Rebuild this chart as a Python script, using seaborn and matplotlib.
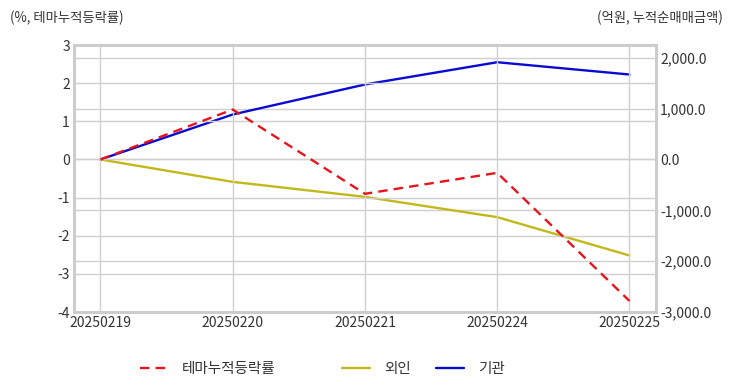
import pandas as pd
import seaborn as sns
import matplotlib.pyplot as plt
from matplotlib.lines import Line2D

# data
dates = ["20250219", "20250220", "20250221", "20250224", "20250225"]
theme_rate = [0.0, 1.31, -0.90, -0.35, -3.71]
foreign = [0.0, -440.0, -735.0, -1134.0, -1888.0]
inst = [0.0, 885.0, 1475.0, 1913.0, 1671.0]
left_ticks = [3, 2, 1, 0, -1, -2, -3, -4]
right_ticks = [2000, 1000, 0, -1000, -2000, -3000]
series_names = ["테마누적등락률", "외인", "기관"]

sns.set_theme(style="white")
plt.rcParams['font.family'] = ['Noto Sans CJK KR', 'DejaVu Sans']

df = pd.DataFrame({"date": dates, "theme": theme_rate, "foreign": foreign, "inst": inst})
df["pos"] = range(len(dates))

fig = plt.figure(figsize=(7.32, 3.92), dpi=100)
ax = fig.add_axes([0.1011, 0.204, 0.795, 0.681])
ax2 = ax.twinx()

grid_c = "#d0d0d0"
text_c = "#333333"
red, olive, blue = "#e8141c", "#c2b81a", "#0a0ad2"

sns.lineplot(data=df, x="pos", y="theme", ax=ax, color=red, linewidth=1.7, zorder=5)
ax.lines[0].set_dashes([4, 2.6])
sns.lineplot(data=df, x="pos", y="foreign", ax=ax2, color=olive, linewidth=1.7)
sns.lineplot(data=df, x="pos", y="inst", ax=ax2, color=blue, linewidth=1.7)

ax.set_xlim(-0.2, 4.2)
ax.set_ylim(-4, 3)
ax2.set_ylim(-3000, 2250)
ax.set_yticks(left_ticks)
ax.set_yticklabels([str(t) for t in left_ticks])
ax2.set_yticks(right_ticks)
ax2.set_yticklabels([f"{t:,.1f}" for t in right_ticks])
ax.set_xticks(df["pos"])
ax.set_xticklabels(dates)

# grids: verticals at dates, horizontals at both axes' ticks
for p in df["pos"]:
    ax.axvline(p, color=grid_c, lw=1, zorder=0)
for t in left_ticks:
    ax.axhline(t, color=grid_c, lw=1, zorder=0)
for t in right_ticks:
    ax2.axhline(t, color=grid_c, lw=1, zorder=0)
ax2.set_zorder(ax.get_zorder() - 1)
ax.patch.set_visible(False)

for a in (ax, ax2):
    a.set_xlabel("")
    a.set_ylabel("")
    a.tick_params(length=0, labelsize=10, colors=text_c, pad=3)
    for s in a.spines.values():
        s.set_color("#cccccc")
        s.set_linewidth(2)

fig.text(0.013, 0.955, "(%, 테마누적등락률)", fontsize=9.6, color=text_c, ha="left", va="center")
fig.text(0.987, 0.955, "(억원, 누적순매매금액)", fontsize=9.6, color=text_c, ha="right", va="center")

handles = [
    Line2D([], [], color=red, lw=1.7, dashes=[4, 2.6]),
    Line2D([], [], color=olive, lw=1.7),
    Line2D([], [], color=blue, lw=1.7),
]
anchors = [0.191, 0.467, 0.596]
for h, name, xa in zip(handles, series_names, anchors):
    fig.legend([h], [name], loc="center left", bbox_to_anchor=(xa, 0.059),
               frameon=False, fontsize=10.5, handlelength=1.9, handletextpad=1.0,
               borderpad=0, borderaxespad=0, labelcolor=text_c)

fig.savefig("out.png", dpi=100)
